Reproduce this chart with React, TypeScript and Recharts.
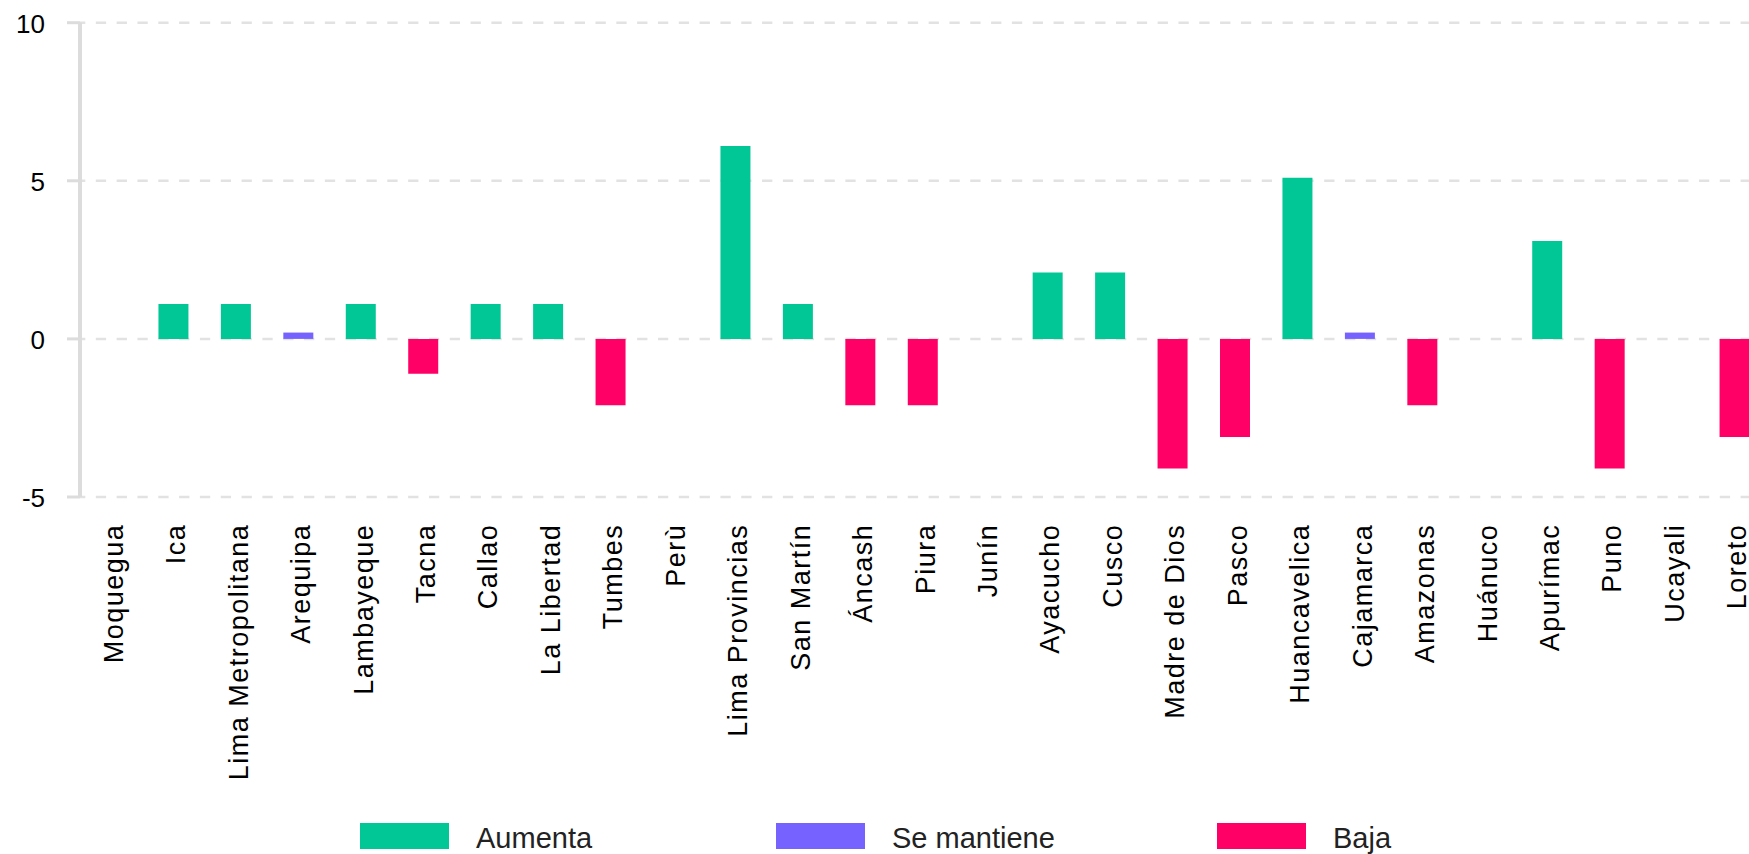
import React from 'react';
import { BarChart, Bar, XAxis, YAxis, CartesianGrid, Legend } from 'recharts';

const categories = [
  'Moquegua', 'Ica', 'Lima Metropolitana', 'Arequipa', 'Lambayeque', 'Tacna', 'Callao',
  'La Libertad', 'Tumbes', 'Perù', 'Lima Provincias', 'San Martín', 'Áncash', 'Piura',
  'Junín', 'Ayacucho', 'Cusco', 'Madre de Dios', 'Pasco', 'Huancavelica', 'Cajamarca',
  'Amazonas', 'Huánuco', 'Apurímac', 'Puno', 'Ucayali', 'Loreto',
];

const aumenta = [
  null, 1.1, 1.1, null, 1.1, null, 1.1, 1.1, null, null, 6.1, 1.1, null, null,
  null, 2.1, 2.1, null, null, 5.1, null, null, null, 3.1, null, null, null,
];

const seMantiene = [
  null, null, null, 0.2, null, null, null, null, null, null, null, null, null, null,
  null, null, null, null, null, null, 0.2, null, null, null, null, null, null,
];

const baja = [
  null, null, null, null, null, -1.1, null, null, -2.1, null, null, null, -2.1, -2.1,
  null, null, null, -4.1, -3.1, null, null, -2.1, null, null, -4.1, null, -3.1,
];

const yTicks = [-5, 0, 5, 10];

const seriesNames = ['Aumenta', 'Se mantiene', 'Baja'];
const seriesKeys = ['aumenta', 'seMantiene', 'baja'];
const seriesColors = ['#00C795', '#7562FF', '#FF0066'];

const data = categories.map((name, i) => ({
  name,
  aumenta: aumenta[i],
  seMantiene: seMantiene[i],
  baja: baja[i],
}));

const FONT = '"Liberation Sans", Arial, Helvetica, sans-serif';
const legendLeft = [360, 776, 1217];

const XTick = (props: any) => {
  const { x, y, payload } = props;
  return (
    <text
      x={x - 26.7}
      y={y + 11.5}
      transform={`rotate(-90 ${x} ${y})`}
      textAnchor="end"
      fontSize={27}
      letterSpacing={1.5}
      fill="#000"
      fontFamily={FONT}
    >
      {payload.value}
    </text>
  );
};

const YTick = (props: any) => {
  const { x, y, payload } = props;
  return (
    <text
      x={x}
      y={y + 10.3}
      textAnchor="end"
      fontSize={26}
      fill="#000"
      fontFamily={FONT}
    >
      {payload.value}
    </text>
  );
};

const renderLegend = () => (
  <div style={{ position: 'relative', width: 1749, height: 36 }}>
    {seriesNames.map((name, i) => (
      <div key={name} style={{ position: 'absolute', left: legendLeft[i], top: 0, height: 36 }}>
        <div
          style={{
            position: 'absolute',
            left: 0,
            top: 5,
            width: 89,
            height: 26,
            background: seriesColors[i],
          }}
        />
        <div
          style={{
            position: 'absolute',
            left: 116,
            top: 6,
            fontSize: 29,
            lineHeight: '29px',
            whiteSpace: 'nowrap',
            color: '#222',
            fontFamily: FONT,
          }}
        >
          {name}
        </div>
      </div>
    ))}
  </div>
);

export default function App() {
  return (
    <div
      style={{
        position: 'absolute',
        left: 0,
        top: 0,
        width: 1749,
        height: 854,
        overflow: 'hidden',
        background: '#fff',
      }}
    >
      <BarChart
        width={1766}
        height={854}
        data={data}
        margin={{ top: 22.7, right: 0, bottom: 0, left: 0 }}
        stackOffset="sign"
        barSize={30}
      >
        <CartesianGrid
          vertical={false}
          stroke="#e2e2e2"
          strokeWidth={2.5}
          strokeDasharray="10.3 10.52"
          strokeDashoffset={5}
        />
        <XAxis
          dataKey="name"
          interval={0}
          tick={<XTick />}
          tickLine={false}
          axisLine={false}
          tickSize={0}
          tickMargin={0}
          height={321}
        />
        <YAxis
          domain={[-5, 10]}
          ticks={yTicks}
          interval={0}
          allowDataOverflow
          width={80}
          tickSize={13}
          tickMargin={22}
          axisLine={{ stroke: '#dcdcdc', strokeWidth: 4 }}
          tickLine={{ stroke: '#dcdcdc', strokeWidth: 3 }}
          tick={<YTick />}
        />
        <Legend
          verticalAlign="bottom"
          align="left"
          height={36}
          content={renderLegend}
          wrapperStyle={{ left: 0, bottom: 0, width: 1749, height: 36 }}
        />
        {seriesKeys.map((k, i) => (
          <Bar
            key={k}
            dataKey={k}
            name={seriesNames[i]}
            stackId="s"
            fill={seriesColors[i]}
            isAnimationActive={false}
          />
        ))}
      </BarChart>
    </div>
  );
}
